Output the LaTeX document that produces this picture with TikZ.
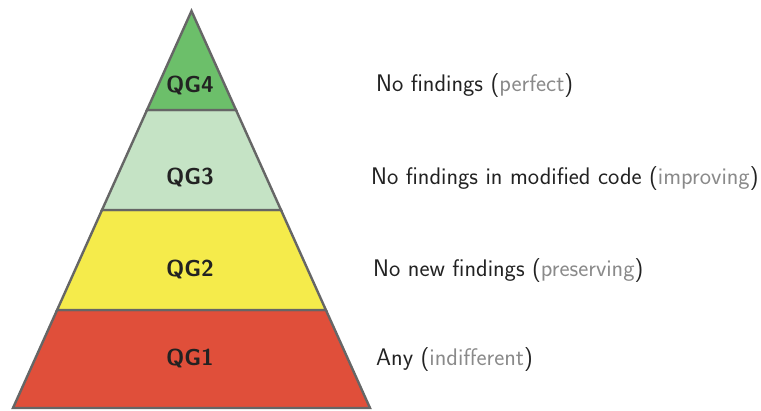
\documentclass[tikz,border=0pt]{standalone}
\usepackage{fontspec}
\setsansfont{Latin Modern Sans}
\definecolor{qgfour}{HTML}{6CBF6A}
\definecolor{qgthree}{HTML}{C5E3C5}
\definecolor{qgtwo}{HTML}{F5EB4B}
\definecolor{qgone}{HTML}{E04F3A}
\definecolor{edge}{HTML}{666666}
\definecolor{txt}{HTML}{222222}
\definecolor{note}{HTML}{8A8A8A}
\tikzset{
  layer/.style={draw=edge, line width=2.4pt},
  qglabel/.style={font=\sffamily\bfseries\fontsize{23}{26}\selectfont, text=txt, inner sep=0pt},
  desc/.style={font=\sffamily\fontsize{24}{28}\selectfont, text=txt, anchor=west, inner sep=0pt}
}
\begin{document}
\begin{tikzpicture}[x=1pt,y=-1pt]
\useasboundingbox (0,0) rectangle (761,410);
% layers
\path[layer, fill=qgone]   (13,408) -- (370,408) -- (325.9,310) -- (57.1,310) -- cycle;
\path[layer, fill=qgtwo]   (57.1,310) -- (325.9,310) -- (281,210) -- (102,210) -- cycle;
\path[layer, fill=qgthree] (102,210) -- (281,210) -- (236,110) -- (147,110) -- cycle;
\path[layer, fill=qgfour]  (147,110) -- (236,110) -- (191.5,11) -- cycle;
% labels
\node[qglabel] (qg4) at (190,85) {QG4};
\node[qglabel] (qg3) at (190,177) {QG3};
\node[qglabel] (qg2) at (190,269) {QG2};
\node[qglabel] (qg1) at (190,358) {QG1};
% descriptions
\node[desc] (d4) at (376,86) {No findings (\textcolor{note}{perfect})};
\node[desc] (d3) at (371,179) {No findings in modified code (\textcolor{note}{improving})};
\node[desc] (d2) at (373,271) {No new findings (\textcolor{note}{preserving})};
\node[desc] (d1) at (376,360) {Any (\textcolor{note}{indifferent})};
\end{tikzpicture}
\end{document}
